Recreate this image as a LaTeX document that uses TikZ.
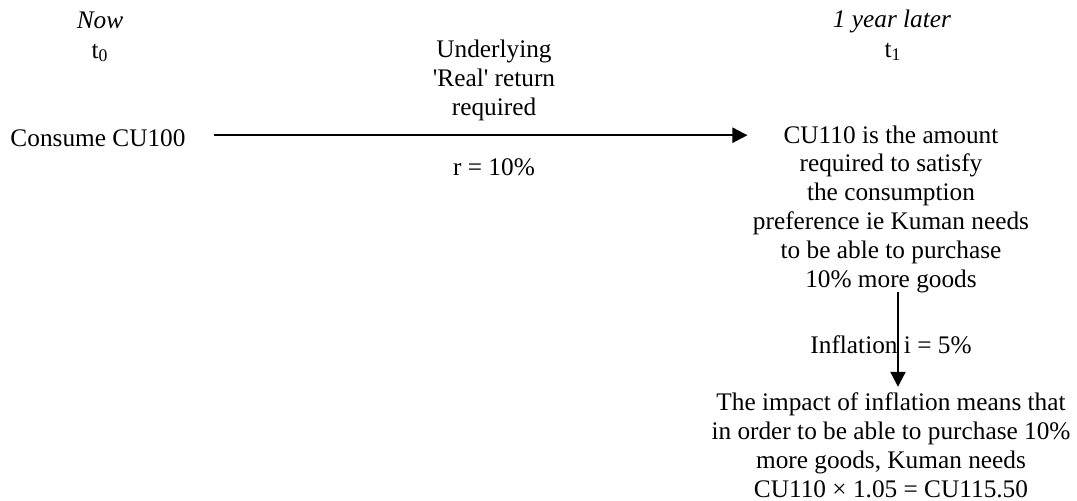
\documentclass[tikz,border=0pt]{standalone}
\usepackage{fontspec}
\setmainfont{Liberation Serif}
\usetikzlibrary{arrows.meta}
\begin{document}
\begin{tikzpicture}[x=0.5pt,y=-0.5pt,
  every node/.style={inner sep=0pt, outer sep=0pt,
    font=\fontsize{12.65pt}{14.4pt}\selectfont},
  txt/.style={align=center, anchor=base},
  flow/.style={line width=1.1pt, -{Triangle[length=7.5pt,width=7.5pt]}}]
\useasboundingbox (0,0) rectangle (1077,500);

% time headings
\node[txt] (now)   at (100,28) {\textit{Now}};
\node[txt] (tzero) at (100,58) {t\textsubscript{0}};
\node[txt] (later) at (892,27) {\textit{1 year later}};
\node[txt] (tone)  at (893,57) {t\textsubscript{1}};

% real return (multi-line nodes are placed by their last baseline)
\node[txt] (real) at (494,115) {Underlying\\\textquotesingle Real\textquotesingle{} return\\required};
\node[txt] (rate) at (494,175) {r = 10\%};

% consumption now and later
\node[txt] (consume) at (98,146) {Consume CU100};
\node[txt] (result) at (891,287) {CU110 is the amount\\required to satisfy\\the consumption\\preference ie Kuman needs\\to be able to purchase\\10\% more goods};
\node[txt] (impact) at (891,497) {The impact of inflation means that\\in order to be able to purchase 10\%\\more goods, Kuman needs\\CU110 × 1.05 = CU115.50};

% connectors
\coordinate (tip) at (consume.east -| result.west);
\draw[flow] ([xshift=14pt,yshift=1.25pt]consume.east) -- ([xshift=-2.75pt,yshift=1.25pt]tip);
\draw[flow, shorten >=3pt] ([xshift=3.5pt]result.south) --
  node[midway,xshift=-3.5pt,yshift=-1pt] (infl) {Inflation i = 5\%}
  ([xshift=3.5pt]impact.north);
\end{tikzpicture}
\end{document}
